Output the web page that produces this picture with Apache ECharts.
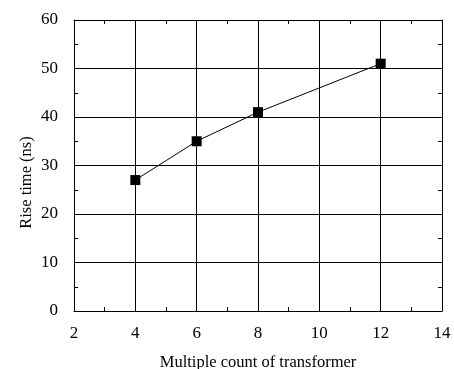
<!DOCTYPE html>
<html><head><meta charset="utf-8">
<script src="https://cdn.jsdelivr.net/npm/echarts@6/dist/echarts.min.js"></script>
<style>html,body{margin:0;padding:0;background:#fff}#c{width:454px;height:369px}</style>
</head><body><div id="c"></div>
<script>
const xValues = [4, 6, 8, 12];
const riseTime = [27, 35, 41, 51];
const xName = 'Multiple count of transformer';
const yName = 'Rise time (ns)';

const font = 'Liberation Serif, Times New Roman, serif';
const chart = echarts.init(document.getElementById('c'));
const lineS = {color: '#000', width: 1};
function ax(extra) {
  return Object.assign({
    axisLine: {show: true, onZero: false, lineStyle: lineS},
    axisTick: {show: true, inside: true, length: 4, lineStyle: lineS},
    minorTick: {show: true, splitNumber: 2, length: 4, lineStyle: lineS},
    splitLine: {show: false}
  }, extra);
}
chart.setOption({
  animation: false,
  grid: {left: 74, right: 12, top: 20, bottom: 58, containLabel: false, outerBoundsMode: 'none'},
  xAxis: [
    ax({type: 'value', min: 2, max: 14, interval: 2, position: 'bottom',
      name: xName, nameLocation: 'middle', nameGap: 43, nameMoveOverlap: false,
      nameTextStyle: {fontFamily: font, fontSize: 16.5, color: '#000'},
      axisLabel: {fontFamily: font, fontSize: 17, color: '#000', margin: 14},
      splitLine: {show: true, lineStyle: lineS}}),
    ax({type: 'value', min: 2, max: 14, interval: 2, position: 'top', axisLabel: {show: false}})
  ],
  yAxis: [
    ax({type: 'value', min: 0, max: 60, interval: 10, position: 'left',
      name: yName, nameLocation: 'middle', nameGap: 39, nameMoveOverlap: false,
      nameTextStyle: {fontFamily: font, fontSize: 16.5, color: '#000', padding: [0, 34, 0, 0]},
      axisLabel: {fontFamily: font, fontSize: 17, color: '#000', margin: 16},
      splitLine: {show: true, lineStyle: lineS}}),
    ax({type: 'value', min: 0, max: 60, interval: 10, position: 'right', axisLabel: {show: false}})
  ],
  series: [{
    type: 'line',
    data: xValues.map((x, i) => [x, riseTime[i]]),
    symbol: 'rect', symbolSize: 10,
    lineStyle: {color: '#000', width: 1},
    itemStyle: {color: '#000'}
  }]
});
</script></body></html>
